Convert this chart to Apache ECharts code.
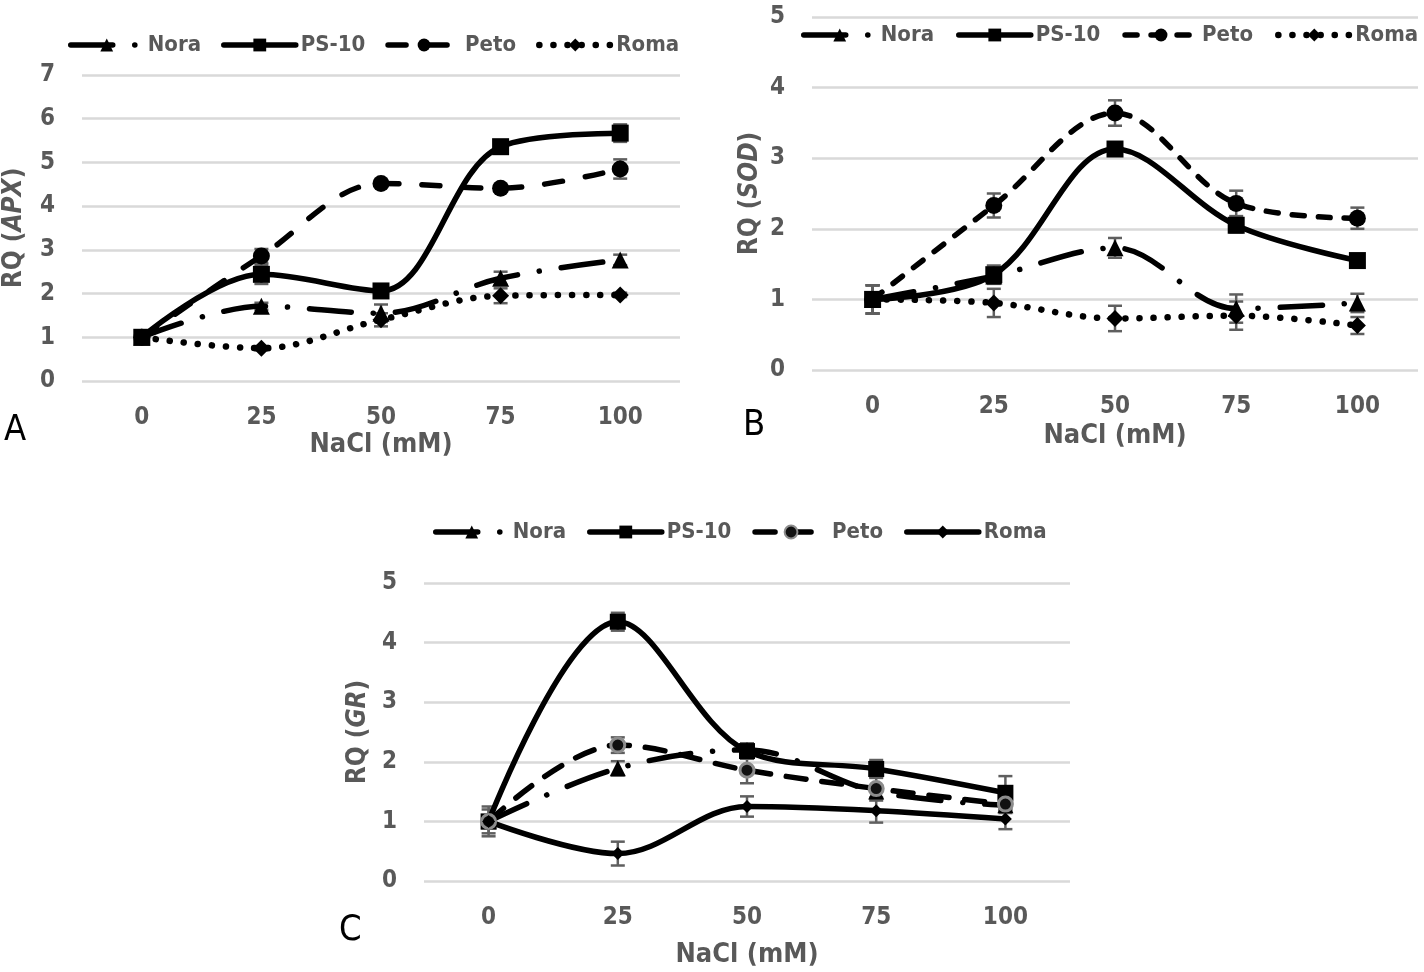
<!DOCTYPE html>
<html>
<head>
<meta charset="utf-8">
<script src="https://cdn.jsdelivr.net/npm/echarts@6/dist/echarts.min.js"></script>
<style>
html,body{margin:0;padding:0;background:#fff;}
#main{width:1424px;height:972px;}
</style>
</head>
<body>
<div id="main"></div>
<script>
// ---------- data ----------
const categories = ['0', '25', '50', '75', '100'];
const seriesNames = ['Nora', 'PS-10', 'Peto', 'Roma'];

// Panel A : RQ (APX)
const apxNora = [1.00, 1.71, 1.55, 2.35, 2.77];
const apxPS10 = [1.00, 2.44, 2.06, 5.36, 5.67];
const apxPeto = [1.00, 2.86, 4.52, 4.41, 4.85];
const apxRoma = [1.00, 0.75, 1.40, 1.95, 1.97];
const apxNoraErr = [0.05, 0.08, 0.20, 0.15, 0.12];
const apxPS10Err = [0.08, 0.22, 0.10, 0.08, 0.20];
const apxPetoErr = [0.05, 0.16, 0.08, 0.08, 0.22];
const apxRomaErr = [0.05, 0.05, 0.15, 0.17, 0.05];

// Panel B : RQ (SOD)
const sodNora = [1.00, 1.33, 1.73, 0.87, 0.95];
const sodPS10 = [1.00, 1.35, 3.13, 2.05, 1.55];
const sodPeto = [1.00, 2.33, 3.64, 2.36, 2.15];
const sodRoma = [1.00, 0.95, 0.73, 0.77, 0.63];
const sodNoraErr = [0.20, 0.10, 0.14, 0.20, 0.13];
const sodPS10Err = [0.20, 0.13, 0.05, 0.10, 0.05];
const sodPetoErr = [0.20, 0.17, 0.18, 0.18, 0.15];
const sodRomaErr = [0.20, 0.20, 0.18, 0.20, 0.12];

// Panel C : RQ (GR)
const grNora = [1.00, 1.89, 2.20, 1.50, 1.27];
const grPS10 = [1.00, 4.35, 2.18, 1.88, 1.48];
const grPeto = [1.00, 2.28, 1.86, 1.55, 1.29];
const grRoma = [1.00, 0.46, 1.25, 1.18, 1.04];
const grNoraErr = [0.10, 0.12, 0.10, 0.10, 0.10];
const grPS10Err = [0.25, 0.15, 0.13, 0.15, 0.28];
const grPetoErr = [0.20, 0.13, 0.22, 0.20, 0.15];
const grRomaErr = [0.10, 0.20, 0.17, 0.20, 0.17];

const yTicksA = {min: 0, max: 7, interval: 1};
const yTicksB = {min: 0, max: 5, interval: 1};
const yTicksC = {min: 0, max: 5, interval: 1};

// ---------- styling ----------
const FONT = "'Liberation Sans Narrow', 'DejaVu Sans Condensed', 'Noto Sans', sans-serif";
const GRAY = '#595959';
const LW = 5.5;
const SMOOTH = 0.35;
const DASHDOT = [42, 22, 0.1, 22];
const DOTTED = [0.1, 14];

function lineSeries(panel, name, data, idx, symbol, size, dash, width, itemStyle) {
  return {
    type: 'line',
    name: panel + '|' + name,
    xAxisIndex: idx, yAxisIndex: idx,
    data: data,
    smooth: SMOOTH,
    symbol: symbol,
    symbolSize: size,
    showSymbol: true,
    z: 3,
    lineStyle: {color: '#000', width: width || LW, type: dash || 'solid', cap: 'round', join: 'round'},
    itemStyle: itemStyle || {color: '#000'},
    emphasis: {disabled: true}
  };
}

function errData(vals, errs) {
  const out = [];
  for (let i = 0; i < vals.length; i++) out.push([i, vals[i] - errs[i], vals[i] + errs[i]]);
  return out;
}

function renderErr(params, api) {
  const x = api.value(0);
  const p1 = api.coord([x, api.value(1)]);
  const p2 = api.coord([x, api.value(2)]);
  const w = 7;
  const st = {stroke: '#5f5f5f', lineWidth: 2.5};
  return {
    type: 'group',
    children: [
      {type: 'line', shape: {x1: p1[0], y1: p1[1], x2: p2[0], y2: p2[1]}, style: st},
      {type: 'line', shape: {x1: p1[0] - w, y1: p1[1], x2: p1[0] + w, y2: p1[1]}, style: st},
      {type: 'line', shape: {x1: p2[0] - w, y1: p2[1], x2: p2[0] + w, y2: p2[1]}, style: st}
    ]
  };
}

function errSeries(idx, data) {
  return {
    type: 'custom', name: 'err' + idx, xAxisIndex: idx, yAxisIndex: idx,
    renderItem: renderErr, data: data, encode: {x: 0, y: [1, 2]}, z: 2, silent: true
  };
}

function xAxis(idx, nameGap) {
  return {
    type: 'category', gridIndex: idx, data: categories,
    axisLine: {show: false}, axisTick: {show: false},
    axisLabel: {color: GRAY, fontSize: 24, fontFamily: FONT, fontWeight: 'bold', margin: 25},
    name: 'NaCl (mM)', nameLocation: 'middle', nameGap: nameGap,
    nameTextStyle: {color: GRAY, fontSize: 27, fontFamily: FONT, fontWeight: 'bold'}
  };
}

function yAxis(idx, ticks, label, nameGap) {
  return {
    type: 'value', gridIndex: idx, min: ticks.min, max: ticks.max, interval: ticks.interval,
    axisLine: {show: false}, axisTick: {show: false},
    splitLine: {lineStyle: {color: '#d9d9d9', width: 2.5}},
    axisLabel: {color: GRAY, fontSize: 24, fontFamily: FONT, fontWeight: 'bold', margin: 27},
    name: '{a|RQ (}{b|' + label + '}{a|)}', nameLocation: 'middle', nameGap: nameGap,
    nameTextStyle: {
      color: GRAY, fontSize: 26, fontFamily: FONT, fontWeight: 'bold',
      rich: {
        a: {color: GRAY, fontSize: 26, fontFamily: FONT, fontWeight: 'bold'},
        b: {color: GRAY, fontSize: 26, fontFamily: FONT, fontWeight: 'bold', fontStyle: 'italic'}
      }
    }
  };
}

function legend(panel, left, top, gap) {
  return {
    left: left, top: top, width: 660, itemWidth: 72, itemHeight: 16, itemGap: gap,
    data: seriesNames.map(n => panel + '|' + n),
    formatter: n => n.split('|')[1],
    lineStyle: {width: 'inherit', type: 'inherit', cap: 'round'},
    textStyle: {color: GRAY, fontSize: 22, fontFamily: FONT, fontWeight: 'bold'}
  };
}

const petoC = {color: '#111', borderColor: '#8c8c8c', borderWidth: 3};

const option = {
  animation: false,
  backgroundColor: '#fff',
  title: [
    {text: 'A', left: 4, top: 413, padding: 0, textStyle: {fontSize: 36, fontWeight: 'normal', color: '#000', fontFamily: FONT}},
    {text: 'B', left: 743, top: 408, padding: 0, textStyle: {fontSize: 36, fontWeight: 'normal', color: '#000', fontFamily: FONT}},
    {text: 'C', left: 339, top: 913, padding: 0, textStyle: {fontSize: 36, fontWeight: 'normal', color: '#000', fontFamily: FONT}}
  ],
  legend: [legend('A', 63, 29, 20), legend('B', 796, 19, 22), legend('C', 428, 516, 21)],
  grid: [
    {left: 80, top: 75, width: 600, height: 306},
    {left: 812, top: 17, width: 606, height: 353},
    {left: 424, top: 583, width: 646, height: 298}
  ],
  xAxis: [xAxis(0, 50), xAxis(1, 52), xAxis(2, 60)],
  yAxis: [yAxis(0, yTicksA, 'APX', 55), yAxis(1, yTicksB, 'SOD', 49), yAxis(2, yTicksC, 'GR', 53)],
  series: [
    errSeries(0, [].concat(errData(apxNora, apxNoraErr), errData(apxPS10, apxPS10Err), errData(apxPeto, apxPetoErr), errData(apxRoma, apxRomaErr))),
    lineSeries('A', 'Nora', apxNora, 0, 'triangle', 17, DASHDOT),
    lineSeries('A', 'PS-10', apxPS10, 0, 'rect', 17),
    lineSeries('A', 'Peto', apxPeto, 0, 'circle', 17, [18, 23]),
    lineSeries('A', 'Roma', apxRoma, 0, 'diamond', 17, DOTTED, 6.5),

    errSeries(1, [].concat(errData(sodNora, sodNoraErr), errData(sodPS10, sodPS10Err), errData(sodPeto, sodPetoErr), errData(sodRoma, sodRomaErr))),
    lineSeries('B', 'Nora', sodNora, 1, 'triangle', 17, DASHDOT),
    lineSeries('B', 'PS-10', sodPS10, 1, 'rect', 17),
    lineSeries('B', 'Peto', sodPeto, 1, 'circle', 17, [12, 14]),
    lineSeries('B', 'Roma', sodRoma, 1, 'diamond', 17, DOTTED, 6.5),

    errSeries(2, [].concat(errData(grNora, grNoraErr), errData(grPS10, grPS10Err), errData(grPeto, grPetoErr), errData(grRoma, grRomaErr))),
    lineSeries('C', 'Nora', grNora, 2, 'triangle', 16, DASHDOT),
    lineSeries('C', 'PS-10', grPS10, 2, 'rect', 16),
    lineSeries('C', 'Peto', grPeto, 2, 'circle', 14, [20, 16], LW, petoC),
    lineSeries('C', 'Roma', grRoma, 2, 'diamond', 13)
  ]
};

const chart = echarts.init(document.getElementById('main'), null, {renderer: 'canvas'});
chart.setOption(option);
</script>
</body>
</html>
